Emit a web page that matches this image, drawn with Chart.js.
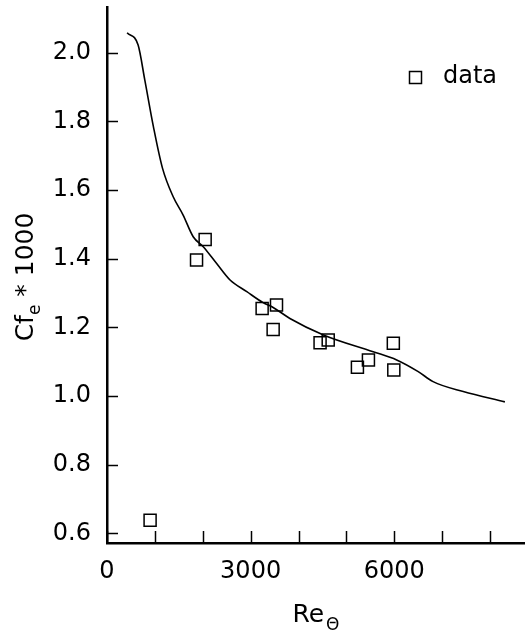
<!DOCTYPE html>
<html>
<head>
<meta charset="utf-8">
<script src="https://cdn.jsdelivr.net/npm/chart.js@4"></script>
<style>
    body { margin: 0; background: #ffffff; }
    canvas { display: block; }
</style>
</head>
<body>
<canvas id="cfChart" width="525" height="637"></canvas>
<script>
// ==========================
// DATA
// ==========================

const dataRe = [900, 1870, 2050, 3240, 3540, 3470, 4450, 4620, 5230, 5460, 5980, 5990];
const dataCf = [0.638, 1.396, 1.456, 1.255, 1.265, 1.194, 1.155, 1.163, 1.084, 1.105, 1.154, 1.076];

const fitRe = [420, 650, 790, 970, 1160, 1380, 1590, 1800, 2010, 2290, 2570,
               2920, 3260, 3470, 3820, 4520, 5560, 6050, 6500, 6810, 7440, 8310];
const fitCf = [2.058, 2.022, 1.920, 1.784, 1.663, 1.581, 1.527, 1.464, 1.435, 1.386, 1.338,
               1.304, 1.272, 1.258, 1.226, 1.178, 1.129, 1.105, 1.071, 1.042, 1.013, 0.983];

const xTicks = [0, 1000, 2000, 3000, 4000, 5000, 6000, 7000, 8000];
const xLabelValues = [0, 3000, 6000];
const yTicks = [0.6, 0.8, 1.0, 1.2, 1.4, 1.6, 1.8, 2.0];
const legendLabel = "data";

const FONT = "'DejaVu Sans', sans-serif";

// ==========================
// INWARD TICKS + TITLES + LEGEND
// ==========================

const decorPlugin = {
    id: "decor",
    afterDraw(chart) {
        const ctx = chart.ctx;
        const area = chart.chartArea;
        const xs = chart.scales.x;
        const ys = chart.scales.y;

        ctx.save();
        ctx.strokeStyle = "#000";
        ctx.lineWidth = 1.5;

        // ticks on x axis, pointing up
        xs.ticks.forEach(t => {
            const px = Math.round(xs.getPixelForValue(t.value)) + 0.5;
            ctx.beginPath();
            ctx.moveTo(px, area.bottom);
            ctx.lineTo(px, area.bottom - 12);
            ctx.stroke();
        });

        // ticks on y axis, pointing right
        ys.ticks.forEach(t => {
            const py = Math.round(ys.getPixelForValue(t.value)) + 0.5;
            ctx.beginPath();
            ctx.moveTo(area.left, py);
            ctx.lineTo(area.left + 11, py);
            ctx.stroke();
        });

        ctx.fillStyle = "#000";
        ctx.textBaseline = "alphabetic";

        // x title: Re with theta subscript
        ctx.font = "25px " + FONT;
        const reW = ctx.measureText("Re").width;
        ctx.font = "17px " + FONT;
        const thW = ctx.measureText("\u0398").width;
        let tx = 316 - (reW + thW + 2) / 2;
        ctx.font = "25px " + FONT;
        ctx.textAlign = "left";
        ctx.fillText("Re", tx, 622);
        ctx.font = "17px " + FONT;
        ctx.fillText("\u0398", tx + reW + 2, 630);

        // y title: Cf with e subscript * 1000, rotated
        ctx.translate(33, 277);
        ctx.rotate(-Math.PI / 2);
        ctx.font = "25px " + FONT;
        const cfW = ctx.measureText("Cf").width;
        const tailW = ctx.measureText(" * 1000").width;
        ctx.font = "17px " + FONT;
        const eW = ctx.measureText("e").width;
        let sx = -(cfW + eW + tailW) / 2;
        ctx.font = "25px " + FONT;
        ctx.fillText("Cf", sx, 0);
        ctx.font = "17px " + FONT;
        ctx.fillText("e", sx + cfW, 7);
        ctx.font = "25px " + FONT;
        ctx.fillText(" * 1000", sx + cfW + eW, 0);
        ctx.restore();

        // legend
        ctx.save();
        ctx.strokeStyle = "#000";
        ctx.lineWidth = 1.5;
        ctx.strokeRect(409.5, 71.5, 12, 12);
        ctx.fillStyle = "#000";
        ctx.font = "24px " + FONT;
        ctx.textAlign = "left";
        ctx.textBaseline = "middle";
        ctx.fillText(legendLabel, 443, 77);
        ctx.restore();
    }
};

// ==========================
// CHART
// ==========================

const cfCtx =
document.getElementById(
    "cfChart");

new Chart(cfCtx, {

    type: "scatter",

    data: {
        datasets: [
            {
                label: "fit",
                data: fitRe.map((x, i) => ({ x: x, y: fitCf[i] })),
                showLine: true,
                borderColor: "#000",
                borderWidth: 1.6,
                pointRadius: 0,
                cubicInterpolationMode: "monotone",
                fill: false,
                order: 2
            },
            {
                label: legendLabel,
                data: dataRe.map((x, i) => ({ x: x, y: dataCf[i] })),
                pointStyle: "rect",
                pointRadius: 8.5,
                pointBorderWidth: 1.5,
                borderColor: "#000",
                backgroundColor: "rgba(0,0,0,0)",
                order: 1
            }
        ]
    },

    options: {

        responsive: false,
        animation: false,

        layout: {
            autoPadding: false,
            padding: { top: 7, right: 0, left: 0, bottom: 0 }
        },

        plugins: {
            legend: { display: false },
            tooltip: { enabled: false }
        },

        scales: {

            x: {
                type: "linear",
                min: 0,
                max: 8730,
                afterBuildTicks(scale) {
                    scale.ticks = xTicks.map(v => ({ value: v }));
                },
                afterFit(scale) {
                    scale.height = 94;
                    scale.paddingLeft = 0;
                    scale.paddingRight = 0;
                },
                grid: { display: false, drawTicks: false },
                border: { display: true, color: "#000", width: 2.5 },
                ticks: {
                    autoSkip: false,
                    maxRotation: 0,
                    padding: 14,
                    color: "#000",
                    font: { family: FONT, size: 24 },
                    callback: function (v) {
                        return xLabelValues.includes(v) ? String(v) : "";
                    }
                }
            },

            y: {
                type: "linear",
                min: 0.572,
                max: 2.133,
                afterBuildTicks(scale) {
                    scale.ticks = yTicks.map(v => ({ value: v }));
                },
                afterFit(scale) {
                    scale.width = 107;
                    scale.paddingTop = 0;
                    scale.paddingBottom = 0;
                },
                grid: { display: false, drawTicks: false },
                border: { display: true, color: "#000", width: 2.5 },
                ticks: {
                    autoSkip: false,
                    padding: 16,
                    color: "#000",
                    font: { family: FONT, size: 24 },
                    callback: v => Number(v).toFixed(1)
                }
            }
        }
    },

    plugins: [decorPlugin]
});
</script>
</body>
</html>
